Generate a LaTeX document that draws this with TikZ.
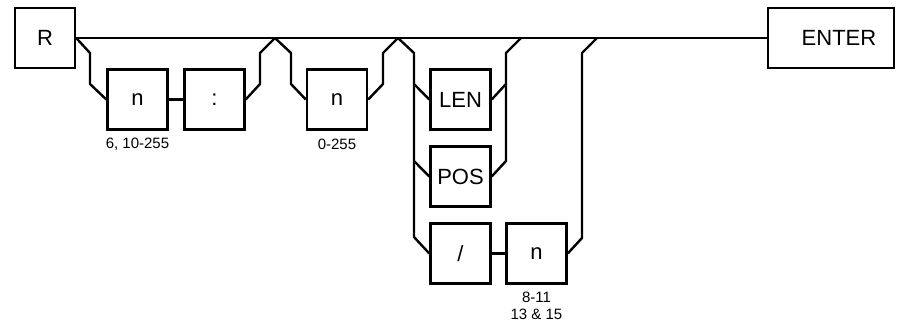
\documentclass[tikz,border=0pt]{standalone}
\usepackage{fontspec}
\setmainfont{Liberation Sans}
\begin{document}
\begin{tikzpicture}[x=1pt,y=-1pt,
  box/.style={draw,line width=2.4pt,minimum width=60pt,minimum height=60pt,inner sep=0pt,font=\fontsize{22}{25}\selectfont},
  wire/.style={line width=2.4pt},
  lbl/.style={font=\fontsize{15}{16.5}\selectfont,align=center,inner sep=0pt}]
\useasboundingbox (0,0) rectangle (898,327);
\node[box] (r) at (45,38) {R};
\node[box,minimum width=126pt] (enter) at (831,38) {\hspace{16pt}ENTER};
\node[box] (n1) at (137.5,99.5) {n};
\node[box] (colon) at (214.5,99.5) {:};
\node[box] (n2) at (337,99.5) {n};
\node[box] (len) at (460.5,99.5) {LEN};
\node[box] (pos) at (460.5,176.5) {POS};
\node[box] (slash) at (460.5,253.5) {/};
\node[box] (n3) at (536.5,253.5) {n};
\node[lbl] (l1) at (137.5,144) {6, 10-255};
\node[lbl] (l2) at (337,144) {0-255};
\node[lbl] (l3) at (536.5,306) {8-11\\13 \& 15};
% junctions
\coordinate (j1) at (275,38);
\coordinate (j2) at (398,38);
\coordinate (j3) at (521,38);
\coordinate (j4) at (597,38);
\coordinate (cv) at (414,237);
\coordinate (cl) at (414,84);
\coordinate (cp) at (414,161);
\coordinate (rv) at (506,84);
\coordinate (rp) at (506,161);
% main line
\draw[wire] (r.east) -- (enter.west);
% branch A
\draw[wire] (r.east) -- (90,53) -- (90,84) -- (n1.west);
\draw[wire] (n1.east) -- (colon.west);
\draw[wire] (colon.east) -- (260,84) -- (260,53) -- (j1);
% branch B
\draw[wire] (j1) -- (291,53) -- (291,84) -- (n2.west);
\draw[wire] (n2.east) -- (383,84) -- (383,53) -- (j2);
% branch C
\draw[wire] (j2) -- (414,53) -- (cv) -- (slash.west);
\draw[wire] (cl) -- (len.west);
\draw[wire] (cp) -- (pos.west);
\draw[wire] (len.east) -- (rv) -- (506,53) -- (j3);
\draw[wire] (pos.east) -- (rp) -- (rv);
\draw[wire] (slash.east) -- (n3.west);
\draw[wire] (n3.east) -- (582,238) -- (582,53) -- (j4);
\end{tikzpicture}
\end{document}
